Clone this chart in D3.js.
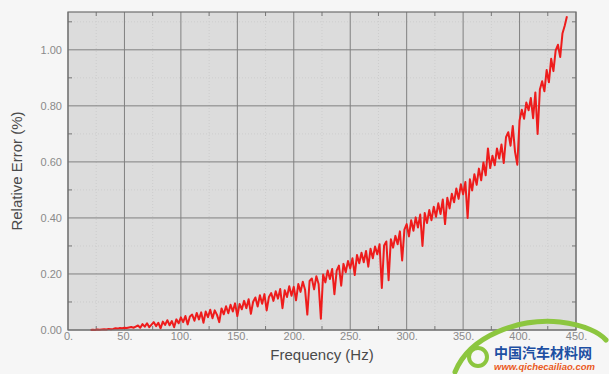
<!DOCTYPE html>
<html>
<head>
<meta charset="utf-8">
<script src="https://cdn.jsdelivr.net/npm/d3@7"></script>
<style>
  body { margin: 0; background: #f6f6f6; }
  svg { display: block; font-family: "Liberation Sans", Arial, sans-serif; }
</style>
</head>
<body>
<div id="chart"></div>
<script>
// Frequency (Hz), every 2 Hz
const freq = [
  20, 22, 24, 26, 28, 30, 32, 34, 36, 38, 40, 42, 44, 46, 48, 50, 52, 54, 56, 58, 60,
  62, 64, 66, 68, 70, 72, 74, 76, 78, 80, 82, 84, 86, 88, 90, 92, 94, 96, 98, 100,
  102, 104, 106, 108, 110, 112, 114, 116, 118, 120, 122, 124, 126, 128, 130, 132, 134, 136, 138, 140,
  142, 144, 146, 148, 150, 152, 154, 156, 158, 160, 162, 164, 166, 168, 170, 172, 174, 176, 178, 180,
  182, 184, 186, 188, 190, 192, 194, 196, 198, 200, 202, 204, 206, 208, 210, 212, 214, 216, 218, 220,
  222, 224, 226, 228, 230, 232, 234, 236, 238, 240, 242, 244, 246, 248, 250, 252, 254, 256, 258, 260,
  262, 264, 266, 268, 270, 272, 274, 276, 278, 280, 282, 284, 286, 288, 290, 292, 294, 296, 298, 300,
  302, 304, 306, 308, 310, 312, 314, 316, 318, 320, 322, 324, 326, 328, 330, 332, 334, 336, 338, 340,
  342, 344, 346, 348, 350, 352, 354, 356, 358, 360, 362, 364, 366, 368, 370, 372, 374, 376, 378, 380,
  382, 384, 386, 388, 390, 392, 394, 396, 398, 400,
  402, 404, 406, 408, 410, 412, 414, 416, 418, 420, 422, 424, 426, 428, 430, 432, 434, 436, 438, 440, 442
];

// Relative error (%)
const relError = [
  0.000, 0.001, 0.000, 0.002, 0.001, 0.002, 0.003, 0.002, 0.004, 0.003, 0.004, 0.006, 0.005, 0.007, 0.006, 0.008, 0.007, 0.009, 0.011, 0.008, 0.012,
  0.016, 0.008, 0.021, 0.012, 0.024, 0.010, 0.019, 0.028, 0.014, 0.026, 0.006, 0.030, 0.018, 0.035, 0.017, 0.032, 0.010, 0.038, 0.024, 0.045,
  0.028, 0.050, 0.020, 0.048, 0.055, 0.033, 0.061, 0.038, 0.063, 0.026, 0.066, 0.046, 0.072, 0.042, 0.070, 0.054, 0.028, 0.077, 0.056, 0.085,
  0.060, 0.090, 0.066, 0.095, 0.050, 0.093, 0.074, 0.104, 0.078, 0.110, 0.058, 0.101, 0.116, 0.084, 0.124, 0.094, 0.128, 0.070, 0.118, 0.132,
  0.104, 0.138, 0.112, 0.146, 0.078, 0.142, 0.118, 0.156, 0.122, 0.154, 0.106, 0.164, 0.136, 0.172, 0.144, 0.055, 0.175, 0.184, 0.145, 0.192,
  0.164, 0.040, 0.198, 0.170, 0.212, 0.182, 0.218, 0.128, 0.212, 0.230, 0.158, 0.236, 0.206, 0.246, 0.220, 0.256, 0.196, 0.268, 0.238, 0.276,
  0.242, 0.282, 0.226, 0.290, 0.256, 0.298, 0.270, 0.306, 0.150, 0.302, 0.316, 0.178, 0.324, 0.294, 0.336, 0.306, 0.352, 0.248, 0.358, 0.378,
  0.334, 0.392, 0.354, 0.402, 0.366, 0.412, 0.300, 0.418, 0.382, 0.428, 0.392, 0.440, 0.404, 0.452, 0.414, 0.466, 0.378, 0.472, 0.434, 0.486,
  0.456, 0.505, 0.468, 0.520, 0.484, 0.528, 0.400, 0.538, 0.498, 0.556, 0.518, 0.576, 0.534, 0.598, 0.552, 0.648, 0.578, 0.622, 0.588, 0.648,
  0.612, 0.662, 0.596, 0.688, 0.706, 0.658, 0.728, 0.636, 0.590, 0.748,
  0.786, 0.754, 0.812, 0.784, 0.828, 0.756, 0.848, 0.700, 0.858, 0.888, 0.852, 0.928, 0.884, 0.968, 0.924, 0.998, 1.018, 0.974, 1.058, 1.086, 1.120
];

const xTicks = [0, 50, 100, 150, 200, 250, 300, 350, 400, 450];
const yTicks = [0, 0.2, 0.4, 0.6, 0.8, 1.0];
const xMinor = [25, 75, 125, 175, 225, 275, 325, 375, 425];
const yMinor = [0.1, 0.3, 0.5, 0.7, 0.9, 1.1];

const width = 609, height = 374;
const margin = { top: 12, right: 33, bottom: 44, left: 68 };
const innerW = width - margin.left - margin.right;
const innerH = height - margin.top - margin.bottom;

const svg = d3.select("#chart").append("svg")
  .attr("width", width)
  .attr("height", height);

svg.append("rect").attr("width", width).attr("height", height).attr("fill", "#f6f6f6");

const g = svg.append("g").attr("transform", `translate(${margin.left},${margin.top})`);

const x = d3.scaleLinear().domain([0, 450]).range([0, innerW]);
const y = d3.scaleLinear().domain([0, 1.135]).range([innerH, 0]);

// plot background
g.append("rect").attr("width", innerW).attr("height", innerH).attr("fill", "#dcdcdc");

// minor grid
g.append("g").selectAll("line").data(xMinor).join("line")
  .attr("x1", d => x(d)).attr("x2", d => x(d)).attr("y1", 0).attr("y2", innerH)
  .attr("stroke", "#cdcdcd").attr("stroke-dasharray", "1,2");
g.append("g").selectAll("line").data(yMinor).join("line")
  .attr("y1", d => y(d)).attr("y2", d => y(d)).attr("x1", 0).attr("x2", innerW)
  .attr("stroke", "#cdcdcd").attr("stroke-dasharray", "1,2");

// major grid
g.append("g").selectAll("line").data(xTicks).join("line")
  .attr("x1", d => x(d)).attr("x2", d => x(d)).attr("y1", 0).attr("y2", innerH)
  .attr("stroke", "#808080").attr("stroke-width", 1);
g.append("g").selectAll("line").data(yTicks).join("line")
  .attr("y1", d => y(d)).attr("y2", d => y(d)).attr("x1", 0).attr("x2", innerW)
  .attr("stroke", "#808080").attr("stroke-width", 1);

// minor tick marks on the frame (inward)
g.append("g").selectAll("line").data(xMinor).join("line")
  .attr("x1", d => x(d)).attr("x2", d => x(d)).attr("y1", 0).attr("y2", 4)
  .attr("stroke", "#777");
g.append("g").selectAll("line").data(xMinor).join("line")
  .attr("x1", d => x(d)).attr("x2", d => x(d)).attr("y1", innerH).attr("y2", innerH - 4)
  .attr("stroke", "#777");
g.append("g").selectAll("line").data(yMinor).join("line")
  .attr("y1", d => y(d)).attr("y2", d => y(d)).attr("x1", 0).attr("x2", 4)
  .attr("stroke", "#777");
g.append("g").selectAll("line").data(yMinor).join("line")
  .attr("y1", d => y(d)).attr("y2", d => y(d)).attr("x1", innerW).attr("x2", innerW - 4)
  .attr("stroke", "#777");

// data line
const data = freq.map((f, i) => ({ f: f, v: relError[i] }));
const line = d3.line().x(d => x(d.f)).y(d => y(d.v));
g.append("path").datum(data)
  .attr("fill", "none")
  .attr("stroke", "#ee1c1c")
  .attr("stroke-width", 2)
  .attr("stroke-linejoin", "round")
  .attr("d", line);

// frame
g.append("rect").attr("width", innerW).attr("height", innerH)
  .attr("fill", "none").attr("stroke", "#6e6e6e").attr("stroke-width", 1.2);

// axes labels
const xAxis = d3.axisBottom(x).tickValues(xTicks).tickSize(0).tickPadding(2)
  .tickFormat(d => d + ".");
g.append("g").attr("transform", `translate(0,${innerH})`).call(xAxis)
  .call(s => s.select(".domain").remove())
  .selectAll("text").attr("fill", "#8a8a8a").style("font-size", "11px");

const yAxis = d3.axisLeft(y).tickValues(yTicks).tickSize(0).tickPadding(6)
  .tickFormat(d3.format(".2f"));
g.append("g").call(yAxis)
  .call(s => s.select(".domain").remove())
  .selectAll("text").attr("fill", "#8a8a8a").style("font-size", "11px");

// axis titles
svg.append("text")
  .attr("x", margin.left + innerW / 2).attr("y", 360)
  .attr("text-anchor", "middle")
  .attr("fill", "#4a4a4a").style("font-size", "15px")
  .text("Frequency (Hz)");

svg.append("text")
  .attr("transform", `translate(22,${margin.top + innerH / 2}) rotate(-90)`)
  .attr("text-anchor", "middle")
  .attr("fill", "#4a4a4a").style("font-size", "15px")
  .text("Relative Error (%)");

// watermark
const wm = svg.append("g");
wm.append("path")
  .attr("d", "M455,372 C470,335 520,318 560,322 C585,325 600,333 606,340")
  .attr("fill", "none").attr("stroke", "#8cc63f").attr("stroke-width", 5)
  .attr("stroke-linecap", "round");
wm.append("circle").attr("cx", 478).attr("cy", 357).attr("r", 9)
  .attr("fill", "none").attr("stroke", "#8cc63f").attr("stroke-width", 4);
wm.append("text").attr("x", 494).attr("y", 358)
  .attr("fill", "#1d4fa3").style("font-size", "14px").style("font-weight", "bold")
  .style("font-family", "'Noto Sans CJK SC', sans-serif")
  .text("中国汽车材料网");
wm.append("text").attr("x", 494).attr("y", 370)
  .attr("fill", "#ea5a1c").style("font-size", "9.5px").style("font-weight", "bold")
  .style("font-style", "italic")
  .text("www.qichecailiao.com");
</script>
</body>
</html>
